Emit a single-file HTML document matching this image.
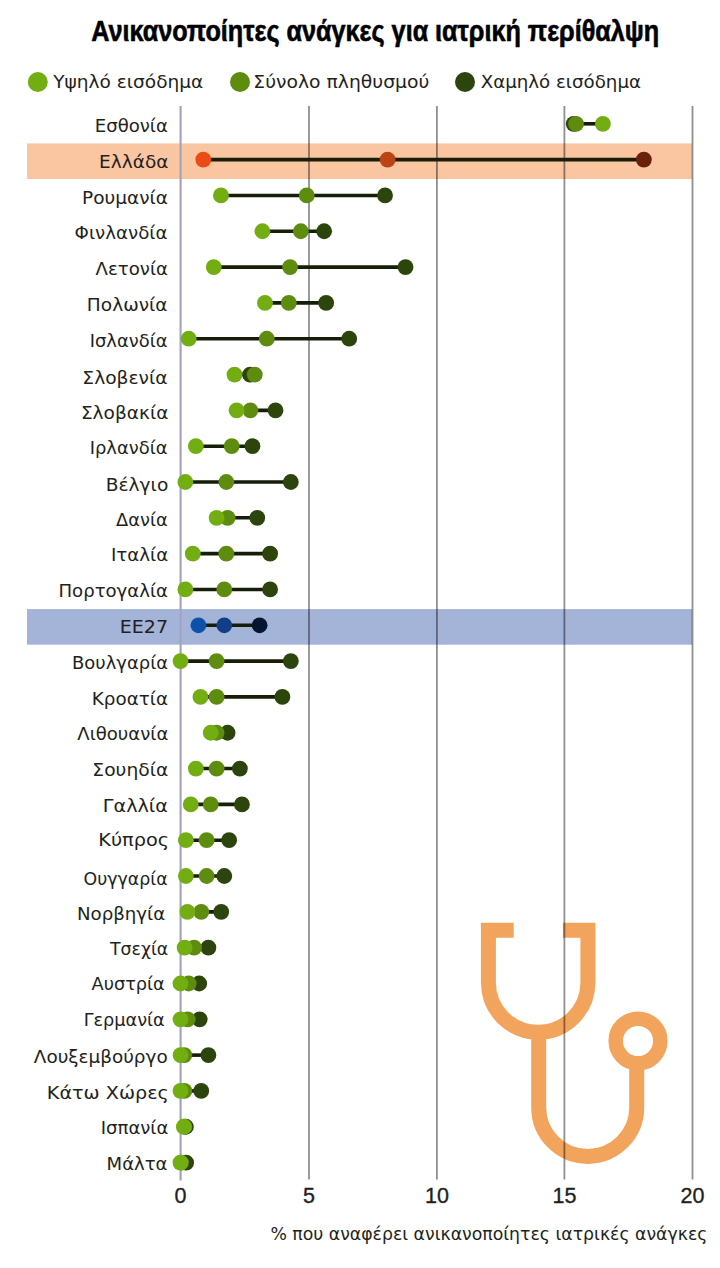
<!DOCTYPE html>
<html><head><meta charset="utf-8"><style>
html,body{margin:0;padding:0;background:#fff;}
svg{display:block;}
text{font-family:"DejaVu Sans","Liberation Sans",sans-serif;fill:#231f20;}
.t{font-family:"Liberation Sans",sans-serif;font-weight:bold;fill:#000;}
</style></head><body>
<svg width="720" height="1268" viewBox="0 0 720 1268">
<rect width="720" height="1268" fill="#fff"/>
<text class="t" x="91.2" y="41.3" font-size="28.8" stroke="#000" stroke-width="0.6" textLength="568" lengthAdjust="spacingAndGlyphs">Ανικανοποίητες ανάγκες για ιατρική περίθαλψη</text>
<circle cx="37.8" cy="82" r="10" fill="#72ad12"/>
<text x="53.3" y="88.3" font-size="18" textLength="150" lengthAdjust="spacingAndGlyphs">Υψηλό εισόδημα</text>
<circle cx="240.0" cy="82" r="10" fill="#5d8c0e"/>
<text x="253.3" y="88.3" font-size="18" textLength="176" lengthAdjust="spacingAndGlyphs">Σύνολο πληθυσμού</text>
<circle cx="465.0" cy="82" r="10" fill="#2c450c"/>
<text x="480.7" y="88.3" font-size="18" textLength="160.3" lengthAdjust="spacingAndGlyphs">Χαμηλό εισόδημα</text>
<rect x="27" y="143.42" width="665" height="35.6" fill="#fac5a1"/>
<rect x="27" y="609.08" width="665" height="35.6" fill="#a4b3d8"/>
<g fill="none" stroke="#f2a35c" stroke-width="15"><path d="M513.7 930.2 H488.4 V982.5 A49.75 49.75 0 0 0 587.9 982.5 V930.2 H562.9"/><path d="M538.7 1030 V1107.4 A49 49 0 0 0 636.7 1107.4 V1060"/><circle cx="638" cy="1041" r="22.3" stroke-width="14.5"/></g>
<line x1="309.00" y1="106" x2="309.00" y2="1179.5" stroke="#000" stroke-opacity="0.44" stroke-width="1.8"/>
<line x1="436.90" y1="106" x2="436.90" y2="1179.5" stroke="#000" stroke-opacity="0.44" stroke-width="1.8"/>
<line x1="564.40" y1="106" x2="564.40" y2="1179.5" stroke="#000" stroke-opacity="0.44" stroke-width="1.8"/>
<line x1="692.50" y1="106" x2="692.50" y2="1179.5" stroke="#000" stroke-opacity="0.44" stroke-width="1.8"/>
<line x1="180.6" y1="106" x2="180.6" y2="1180.5" stroke="#a3a5c0" stroke-width="2.2"/>
<text x="180.60" y="1202.5" font-size="21.5" text-anchor="middle" stroke="#231f20" stroke-width="0.35" style="font-family:Liberation Sans">0</text>
<text x="309.00" y="1202.5" font-size="21.5" text-anchor="middle" stroke="#231f20" stroke-width="0.35" style="font-family:Liberation Sans">5</text>
<text x="436.90" y="1202.5" font-size="21.5" text-anchor="middle" stroke="#231f20" stroke-width="0.35" style="font-family:Liberation Sans">10</text>
<text x="564.40" y="1202.5" font-size="21.5" text-anchor="middle" stroke="#231f20" stroke-width="0.35" style="font-family:Liberation Sans">15</text>
<text x="692.50" y="1202.5" font-size="21.5" text-anchor="middle" stroke="#231f20" stroke-width="0.35" style="font-family:Liberation Sans">20</text>
<text x="270.4" y="1239.6" font-size="17" textLength="437" lengthAdjust="spacingAndGlyphs">% που αναφέρει ανικανοποίητες ιατρικές ανάγκες</text>
<text x="94.74" y="132.20" font-size="18.5" textLength="73.18" lengthAdjust="spacingAndGlyphs">Εσθονία</text>
<line x1="573.72" y1="123.80" x2="602.90" y2="123.80" stroke="#161e08" stroke-width="3.6"/>
<circle cx="573.72" cy="123.80" r="7.9" fill="#2c450c"/><circle cx="576.02" cy="123.80" r="7.9" fill="#5d8c0e"/><circle cx="602.90" cy="123.80" r="7.9" fill="#72ad12"/>
<text x="99.1" y="168.22" font-size="18.5" textLength="69.3" lengthAdjust="spacingAndGlyphs">Ελλάδα</text>
<line x1="203.28" y1="159.62" x2="643.86" y2="159.62" stroke="#161e08" stroke-width="3.6"/>
<circle cx="643.86" cy="159.62" r="7.9" fill="#6a200a"/><circle cx="387.60" cy="159.62" r="7.9" fill="#bb4416"/><circle cx="203.28" cy="159.62" r="7.9" fill="#e94c14"/>
<text x="82.0" y="203.94" font-size="18.5" textLength="86.04" lengthAdjust="spacingAndGlyphs">Ρουμανία</text>
<line x1="220.95" y1="195.44" x2="385.04" y2="195.44" stroke="#161e08" stroke-width="3.6"/>
<circle cx="385.04" cy="195.44" r="7.9" fill="#2c450c"/><circle cx="306.71" cy="195.44" r="7.9" fill="#5d8c0e"/><circle cx="220.95" cy="195.44" r="7.9" fill="#72ad12"/>
<text x="74.62" y="238.86" font-size="18.5" textLength="92.88" lengthAdjust="spacingAndGlyphs">Φινλανδία</text>
<line x1="262.42" y1="231.26" x2="324.12" y2="231.26" stroke="#161e08" stroke-width="3.6"/>
<circle cx="324.12" cy="231.26" r="7.9" fill="#2c450c"/><circle cx="300.82" cy="231.26" r="7.9" fill="#5d8c0e"/><circle cx="262.42" cy="231.26" r="7.9" fill="#72ad12"/>
<text x="95.6" y="275.18" font-size="18.5" textLength="72.39" lengthAdjust="spacingAndGlyphs">Λετονία</text>
<line x1="213.78" y1="267.08" x2="405.52" y2="267.08" stroke="#161e08" stroke-width="3.6"/>
<circle cx="405.52" cy="267.08" r="7.9" fill="#2c450c"/><circle cx="290.07" cy="267.08" r="7.9" fill="#5d8c0e"/><circle cx="213.78" cy="267.08" r="7.9" fill="#72ad12"/>
<text x="86.89" y="311.40" font-size="18.5" textLength="80.68" lengthAdjust="spacingAndGlyphs">Πολωνία</text>
<line x1="264.98" y1="302.90" x2="326.16" y2="302.90" stroke="#161e08" stroke-width="3.6"/>
<circle cx="326.16" cy="302.90" r="7.9" fill="#2c450c"/><circle cx="288.79" cy="302.90" r="7.9" fill="#5d8c0e"/><circle cx="264.98" cy="302.90" r="7.9" fill="#72ad12"/>
<text x="89.66" y="347.22" font-size="18.5" textLength="77.86" lengthAdjust="spacingAndGlyphs">Ισλανδία</text>
<line x1="188.69" y1="338.72" x2="349.20" y2="338.72" stroke="#161e08" stroke-width="3.6"/>
<circle cx="349.20" cy="338.72" r="7.9" fill="#2c450c"/><circle cx="266.77" cy="338.72" r="7.9" fill="#5d8c0e"/><circle cx="188.69" cy="338.72" r="7.9" fill="#72ad12"/>
<text x="82.38" y="383.94" font-size="18.5" textLength="85.28" lengthAdjust="spacingAndGlyphs">Σλοβενία</text>
<line x1="234.52" y1="374.54" x2="254.74" y2="374.54" stroke="#161e08" stroke-width="3.6"/>
<circle cx="250.13" cy="374.54" r="7.9" fill="#2c450c"/><circle cx="254.74" cy="374.54" r="7.9" fill="#5d8c0e"/><circle cx="234.52" cy="374.54" r="7.9" fill="#72ad12"/>
<text x="80.9" y="419.36" font-size="18.5" textLength="87.54" lengthAdjust="spacingAndGlyphs">Σλοβακία</text>
<line x1="236.56" y1="410.36" x2="275.48" y2="410.36" stroke="#161e08" stroke-width="3.6"/>
<circle cx="275.48" cy="410.36" r="7.9" fill="#2c450c"/><circle cx="250.39" cy="410.36" r="7.9" fill="#5d8c0e"/><circle cx="236.56" cy="410.36" r="7.9" fill="#72ad12"/>
<text x="89.66" y="454.18" font-size="18.5" textLength="77.87" lengthAdjust="spacingAndGlyphs">Ιρλανδία</text>
<line x1="195.86" y1="446.18" x2="252.44" y2="446.18" stroke="#161e08" stroke-width="3.6"/>
<circle cx="252.44" cy="446.18" r="7.9" fill="#2c450c"/><circle cx="231.70" cy="446.18" r="7.9" fill="#5d8c0e"/><circle cx="195.86" cy="446.18" r="7.9" fill="#72ad12"/>
<text x="105.79" y="490.50" font-size="18.5" textLength="62.49" lengthAdjust="spacingAndGlyphs">Βέλγιο</text>
<line x1="185.36" y1="482.00" x2="290.84" y2="482.00" stroke="#161e08" stroke-width="3.6"/>
<circle cx="290.84" cy="482.00" r="7.9" fill="#2c450c"/><circle cx="226.32" cy="482.00" r="7.9" fill="#5d8c0e"/><circle cx="185.36" cy="482.00" r="7.9" fill="#72ad12"/>
<text x="116.0" y="526.42" font-size="18.5" textLength="51.72" lengthAdjust="spacingAndGlyphs">Δανία</text>
<line x1="216.60" y1="517.82" x2="257.30" y2="517.82" stroke="#161e08" stroke-width="3.6"/>
<circle cx="257.30" cy="517.82" r="7.9" fill="#2c450c"/><circle cx="227.60" cy="517.82" r="7.9" fill="#5d8c0e"/><circle cx="216.60" cy="517.82" r="7.9" fill="#72ad12"/>
<text x="110.93" y="561.24" font-size="18.5" textLength="57.36" lengthAdjust="spacingAndGlyphs">Ιταλία</text>
<line x1="192.79" y1="553.64" x2="270.10" y2="553.64" stroke="#161e08" stroke-width="3.6"/>
<circle cx="270.10" cy="553.64" r="7.9" fill="#2c450c"/><circle cx="226.32" cy="553.64" r="7.9" fill="#5d8c0e"/><circle cx="192.79" cy="553.64" r="7.9" fill="#72ad12"/>
<text x="58.44" y="597.46" font-size="18.5" textLength="109.62" lengthAdjust="spacingAndGlyphs">Πορτογαλία</text>
<line x1="185.36" y1="589.46" x2="270.10" y2="589.46" stroke="#161e08" stroke-width="3.6"/>
<circle cx="270.10" cy="589.46" r="7.9" fill="#2c450c"/><circle cx="224.28" cy="589.46" r="7.9" fill="#5d8c0e"/><circle cx="185.36" cy="589.46" r="7.9" fill="#72ad12"/>
<text x="119.74" y="633.38" font-size="18.5" textLength="48.31" lengthAdjust="spacingAndGlyphs">ΕΕ27</text>
<line x1="198.42" y1="625.28" x2="259.60" y2="625.28" stroke="#161e08" stroke-width="3.6"/>
<circle cx="259.60" cy="625.28" r="7.9" fill="#071530"/><circle cx="224.28" cy="625.28" r="7.9" fill="#103f88"/><circle cx="198.42" cy="625.28" r="7.9" fill="#0d52aa"/>
<text x="72.06" y="669.20" font-size="18.5" textLength="96.02" lengthAdjust="spacingAndGlyphs">Βουλγαρία</text>
<line x1="180.50" y1="661.10" x2="290.84" y2="661.10" stroke="#161e08" stroke-width="3.6"/>
<circle cx="290.84" cy="661.10" r="7.9" fill="#2c450c"/><circle cx="216.60" cy="661.10" r="7.9" fill="#5d8c0e"/><circle cx="180.50" cy="661.10" r="7.9" fill="#72ad12"/>
<text x="91.82" y="704.52" font-size="18.5" textLength="76.26" lengthAdjust="spacingAndGlyphs">Κροατία</text>
<line x1="200.47" y1="696.92" x2="282.39" y2="696.92" stroke="#161e08" stroke-width="3.6"/>
<circle cx="282.39" cy="696.92" r="7.9" fill="#2c450c"/><circle cx="216.60" cy="696.92" r="7.9" fill="#5d8c0e"/><circle cx="200.47" cy="696.92" r="7.9" fill="#72ad12"/>
<text x="77.3" y="740.44" font-size="18.5" textLength="91.02" lengthAdjust="spacingAndGlyphs">Λιθουανία</text>
<line x1="210.71" y1="732.74" x2="227.60" y2="732.74" stroke="#161e08" stroke-width="3.6"/>
<circle cx="227.60" cy="732.74" r="7.9" fill="#2c450c"/><circle cx="216.60" cy="732.74" r="7.9" fill="#5d8c0e"/><circle cx="210.71" cy="732.74" r="7.9" fill="#72ad12"/>
<text x="92.38" y="776.16" font-size="18.5" textLength="75.95" lengthAdjust="spacingAndGlyphs">Σουηδία</text>
<line x1="195.86" y1="768.56" x2="239.89" y2="768.56" stroke="#161e08" stroke-width="3.6"/>
<circle cx="239.89" cy="768.56" r="7.9" fill="#2c450c"/><circle cx="216.60" cy="768.56" r="7.9" fill="#5d8c0e"/><circle cx="195.86" cy="768.56" r="7.9" fill="#72ad12"/>
<text x="102.83" y="812.38" font-size="18.5" textLength="65.16" lengthAdjust="spacingAndGlyphs">Γαλλία</text>
<line x1="190.74" y1="804.38" x2="241.94" y2="804.38" stroke="#161e08" stroke-width="3.6"/>
<circle cx="241.94" cy="804.38" r="7.9" fill="#2c450c"/><circle cx="210.71" cy="804.38" r="7.9" fill="#5d8c0e"/><circle cx="190.74" cy="804.38" r="7.9" fill="#72ad12"/>
<text x="98.32" y="845.70" font-size="18.5" textLength="70.77" lengthAdjust="spacingAndGlyphs">Κύπρος</text>
<line x1="185.88" y1="840.20" x2="229.14" y2="840.20" stroke="#161e08" stroke-width="3.6"/>
<circle cx="229.14" cy="840.20" r="7.9" fill="#2c450c"/><circle cx="206.61" cy="840.20" r="7.9" fill="#5d8c0e"/><circle cx="185.88" cy="840.20" r="7.9" fill="#72ad12"/>
<text x="83.46" y="885.22" font-size="18.5" textLength="84.17" lengthAdjust="spacingAndGlyphs">Ουγγαρία</text>
<line x1="185.88" y1="876.02" x2="224.28" y2="876.02" stroke="#161e08" stroke-width="3.6"/>
<circle cx="224.28" cy="876.02" r="7.9" fill="#2c450c"/><circle cx="206.61" cy="876.02" r="7.9" fill="#5d8c0e"/><circle cx="185.88" cy="876.02" r="7.9" fill="#72ad12"/>
<text x="76.93" y="919.94" font-size="18.5" textLength="88.29" lengthAdjust="spacingAndGlyphs">Νορβηγία</text>
<line x1="187.41" y1="911.84" x2="221.20" y2="911.84" stroke="#161e08" stroke-width="3.6"/>
<circle cx="221.20" cy="911.84" r="7.9" fill="#2c450c"/><circle cx="201.24" cy="911.84" r="7.9" fill="#5d8c0e"/><circle cx="187.41" cy="911.84" r="7.9" fill="#72ad12"/>
<text x="110.0" y="955.16" font-size="18.5" textLength="58.2" lengthAdjust="spacingAndGlyphs">Τσεχία</text>
<line x1="184.60" y1="947.66" x2="208.40" y2="947.66" stroke="#161e08" stroke-width="3.6"/>
<circle cx="208.40" cy="947.66" r="7.9" fill="#2c450c"/><circle cx="194.07" cy="947.66" r="7.9" fill="#5d8c0e"/><circle cx="184.60" cy="947.66" r="7.9" fill="#72ad12"/>
<text x="91.6" y="990.28" font-size="18.5" textLength="73.2" lengthAdjust="spacingAndGlyphs">Αυστρία</text>
<line x1="180.50" y1="983.48" x2="199.19" y2="983.48" stroke="#161e08" stroke-width="3.6"/>
<circle cx="199.19" cy="983.48" r="7.9" fill="#2c450c"/><circle cx="188.69" cy="983.48" r="7.9" fill="#5d8c0e"/><circle cx="180.50" cy="983.48" r="7.9" fill="#72ad12"/>
<text x="83.69" y="1026.40" font-size="18.5" textLength="81.09" lengthAdjust="spacingAndGlyphs">Γερμανία</text>
<line x1="180.50" y1="1019.30" x2="199.70" y2="1019.30" stroke="#161e08" stroke-width="3.6"/>
<circle cx="199.70" cy="1019.30" r="7.9" fill="#2c450c"/><circle cx="187.67" cy="1019.30" r="7.9" fill="#5d8c0e"/><circle cx="180.50" cy="1019.30" r="7.9" fill="#72ad12"/>
<text x="33.8" y="1062.62" font-size="18.5" textLength="133.91" lengthAdjust="spacingAndGlyphs">Λουξεμβούργο</text>
<line x1="180.50" y1="1055.12" x2="208.40" y2="1055.12" stroke="#161e08" stroke-width="3.6"/>
<circle cx="208.40" cy="1055.12" r="7.9" fill="#2c450c"/><circle cx="184.34" cy="1055.12" r="7.9" fill="#5d8c0e"/><circle cx="180.50" cy="1055.12" r="7.9" fill="#72ad12"/>
<text x="46.83" y="1098.94" font-size="18.5" textLength="121.94" lengthAdjust="spacingAndGlyphs">Κάτω Χώρες</text>
<line x1="180.50" y1="1090.94" x2="201.24" y2="1090.94" stroke="#161e08" stroke-width="3.6"/>
<circle cx="201.24" cy="1090.94" r="7.9" fill="#2c450c"/><circle cx="184.34" cy="1090.94" r="7.9" fill="#5d8c0e"/><circle cx="180.50" cy="1090.94" r="7.9" fill="#72ad12"/>
<text x="100.75" y="1133.66" font-size="18.5" textLength="67.63" lengthAdjust="spacingAndGlyphs">Ισπανία</text>
<line x1="183.83" y1="1126.76" x2="185.88" y2="1126.76" stroke="#161e08" stroke-width="3.6"/>
<circle cx="185.88" cy="1126.76" r="7.9" fill="#2c450c"/><circle cx="184.34" cy="1126.76" r="7.9" fill="#5d8c0e"/><circle cx="183.83" cy="1126.76" r="7.9" fill="#72ad12"/>
<text x="106.55" y="1170.18" font-size="18.5" textLength="60.98" lengthAdjust="spacingAndGlyphs">Μάλτα</text>
<line x1="180.50" y1="1162.58" x2="186.13" y2="1162.58" stroke="#161e08" stroke-width="3.6"/>
<circle cx="186.13" cy="1162.58" r="7.9" fill="#2c450c"/><circle cx="181.01" cy="1162.58" r="7.9" fill="#5d8c0e"/><circle cx="180.50" cy="1162.58" r="7.9" fill="#72ad12"/>
</svg>
</body></html>
